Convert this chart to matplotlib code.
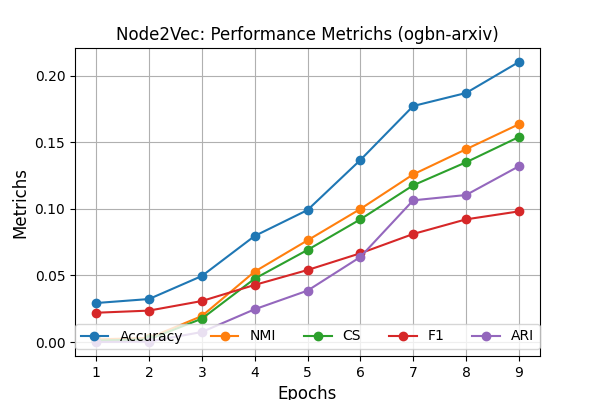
import matplotlib
matplotlib.use("Agg")
import matplotlib.pyplot as plt

epochs = [1, 2, 3, 4, 5, 6, 7, 8, 9]
accuracy = [0.0293, 0.0323, 0.0496, 0.0797, 0.0992, 0.1368, 0.1774, 0.1872, 0.2105]
nmi = [0.002, 0.003, 0.0195, 0.0529, 0.0764, 0.1000, 0.1260, 0.1449, 0.1637]
cs = [0.001, 0.002, 0.0175, 0.0476, 0.0692, 0.0922, 0.1178, 0.1351, 0.1541]
f1 = [0.0220, 0.0236, 0.0308, 0.0429, 0.0541, 0.0667, 0.0812, 0.0922, 0.0982]
ari = [0.0, 0.0003, 0.0075, 0.0246, 0.0386, 0.0639, 0.1065, 0.1105, 0.1321]

series = [
    ("Accuracy", accuracy),
    ("NMI", nmi),
    ("CS", cs),
    ("F1", f1),
    ("ARI", ari),
]

fig = plt.figure(figsize=(6, 4), dpi=100)
for name, vals in series:
    plt.plot(epochs, vals, marker="o", label=name)

plt.title("Node2Vec: Performance Metrichs (ogbn-arxiv)")
plt.xlabel("Epochs", fontsize=12)
plt.ylabel("Metrichs", fontsize=12)
plt.xticks(epochs)
plt.grid(True)
plt.legend(loc="lower center", ncol=5)
plt.savefig("out.png", dpi=100)
plt.close()
